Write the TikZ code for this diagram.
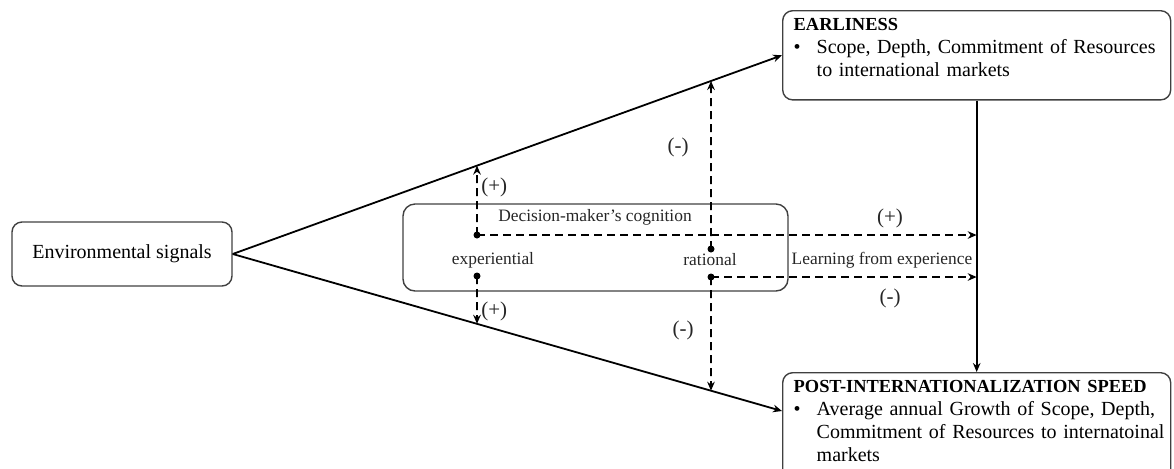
\documentclass[tikz,border=0pt]{standalone}
\usepackage{fontspec}
\setmainfont{Liberation Serif}
\usetikzlibrary{arrows.meta,positioning,calc}

\begin{document}
\begin{tikzpicture}[x=0.5pt, y=-0.5pt,
    box/.style={draw=black!75, line width=0.7pt, rounded corners=5pt, align=left,
                text width=183pt, inner xsep=5.5pt, inner ysep=4pt, anchor=north west,
                font=\fontsize{10}{11.5}\selectfont},
    plain/.style={draw=black!75, line width=0.7pt, rounded corners=5pt, font=\fontsize{10}{12}\selectfont},
    lbl/.style={font=\fontsize{8.7}{10}\selectfont, inner sep=1pt, text=black!85},
    sign/.style={lbl, font=\fontsize{10.5}{12}\selectfont},
    dot/.style={circle, fill=black, inner sep=0pt, minimum size=3.5pt},
    arrow/.style={-{Stealth[length=4.5pt,width=3.8pt]}, line width=0.9pt},
    dasharrow/.style={arrow, dash pattern=on 4pt off 2.5pt}
]
\useasboundingbox (0,0) rectangle (1174,468);

\node[plain, minimum width=110pt, minimum height=32pt] (env) at (122,254) {Environmental signals};

\node[box] (earl) at (782,10) {{\fontsize{9.2}{11.5}\selectfont\bfseries EARLINESS}\\
  \makebox[11.5pt][l]{\textbullet}\mbox{Scope, Depth, Commitment of Resources}\\
  \hspace*{11.5pt}\mbox{to international markets}\rule[-7.5pt]{0pt}{0pt}};
\node[box] (post) at (782,372) {{\fontsize{9.2}{11.5}\selectfont\bfseries POST-INTERNATIONALIZATION SPEED}\\
  \makebox[11.5pt][l]{\textbullet}\mbox{Average annual Growth of Scope, Depth,}\\
  \hspace*{11.5pt}\mbox{Commitment of Resources to internatoinal}\\
  \hspace*{11.5pt}\mbox{markets}\rule[-7.5pt]{0pt}{0pt}};
\coordinate (postin) at (782,411);

% cognition box
\node[plain, rounded corners=6pt, minimum width=192.5pt, minimum height=43.5pt] (cog) at (595.5,247.5) {};
\node[lbl] (cogtitle) at (595,217) {Decision-maker’s cognition};
\node[lbl] (expl) at (493,260) {experiential};
\node[lbl] (ratl) at (710,260) {rational};

\node[dot] (expU) at (477,235) {};
\node[dot] (expD) at (477,276) {};
\node[dot] (ratU) at (711,249) {};
\node[dot] (ratD) at (711,277) {};

\draw[arrow] (env.east) -- (earl.west);
\draw[arrow] (env.east) -- (postin);
\draw[arrow] (earl.south) -- (post.north);

% moderating effects
\draw[dasharrow] (expU.center) -- (intersection of env.east--earl.west and expU.center--expD.center);
\draw[dasharrow] (expD.center) -- (intersection of env.east--postin and expU.center--expD.center);
\draw[dasharrow] (ratU.center) -- (intersection of env.east--earl.west and ratU.center--ratD.center);
\draw[dasharrow] (ratD.center) -- (intersection of env.east--postin and ratU.center--ratD.center);
\draw[dasharrow] (expU.center) -- (expU -| earl.south);
\draw[dasharrow] (ratD.center) -- (ratD -| earl.south);

\node[sign, anchor=west] (plus1) at (479,187) {(+)};
\node[sign, anchor=west] (plus2) at (479,311) {(+)};
\node[sign] (minus1) at (678,147) {(-)};
\node[sign] (minus2) at (683,330) {(-)};
\node[sign] (plus3) at (890,218) {(+)};
\node[lbl] (learn) at (882,260) {Learning from experience};
\node[sign] (minus3) at (890,298) {(-)};

\end{tikzpicture}
\end{document}
